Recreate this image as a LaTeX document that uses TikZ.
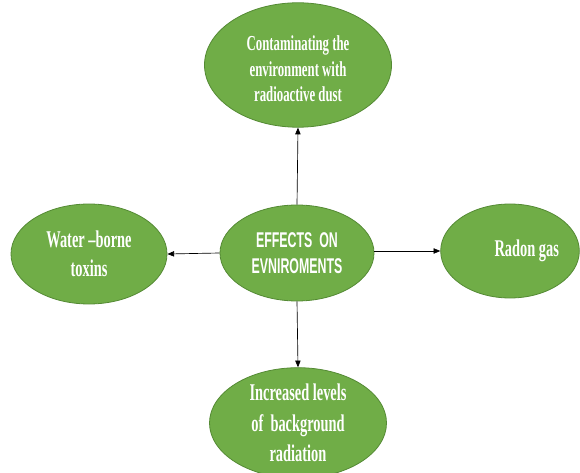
\documentclass[tikz,border=0pt]{standalone}
\usepackage{fontspec}
\usetikzlibrary{shapes.geometric,arrows.meta}
\newfontfamily\ovalfont[FakeStretch=0.6]{Liberation Serif Bold}
\newfontfamily\hubfont[FakeStretch=0.58]{Liberation Sans Bold}
\definecolor{leafgreen}{RGB}{112,173,71}
\definecolor{leafedge}{RGB}{84,138,52}
\tikzset{
	oval/.style={ellipse, draw=leafedge, fill=leafgreen, line width=0.6pt, text=white, align=center, inner sep=0pt, font=\ovalfont\fontsize{18}{22}\selectfont},
	hub/.style={oval, font=\hubfont\fontsize{16}{20}\selectfont},
	link/.style={-{Triangle[length=5pt,width=4pt]}, line width=0.5pt}
}
\begin{document}
\begin{tikzpicture}[x=0.75pt,y=0.75pt,yscale=-1,xscale=1]
		\useasboundingbox (0,0) rectangle (580,473);

		% Centre
		\node [hub, minimum width=154*0.75pt, minimum height=96*0.75pt] (effects) at (297,253) {EFFECTS~ ON\\EVNIROMENTS};
		% Outer ellipses
		\node [oval, minimum width=187*0.75pt, minimum height=103*0.75pt, font=\ovalfont\fontsize{16}{19}\selectfont] (contam) at (298,65) {\raisebox{0pt}[\dimexpr\height+9pt\relax]{\begin{tabular}{@{}c@{}}Contaminating the\\environment with\\radioactive dust\end{tabular}}};
		\node [oval, minimum width=156*0.75pt, minimum height=100*0.75pt] (water) at (89,254) {Water –borne\\toxins};
		\node [oval, minimum width=136*0.75pt, minimum height=94*0.75pt] (radon) at (510,251) {\hspace*{1.4em}Radon gas};
		\node [oval, minimum width=177*0.75pt, minimum height=95*0.75pt, font=\ovalfont\fontsize{18}{23}\selectfont] (incr) at (298,423) {Increased levels\\of~ background\\radiation};

		% Connectors
		\draw [link] (effects.north) -- (contam.south);
		\draw [link] (effects.west) -- (water.east);
		\draw [link] ([yshift=-1.5pt]effects.east) -- (radon.west);
		\draw [link] (effects.south) -- (incr.north);
	\end{tikzpicture}
\end{document}
